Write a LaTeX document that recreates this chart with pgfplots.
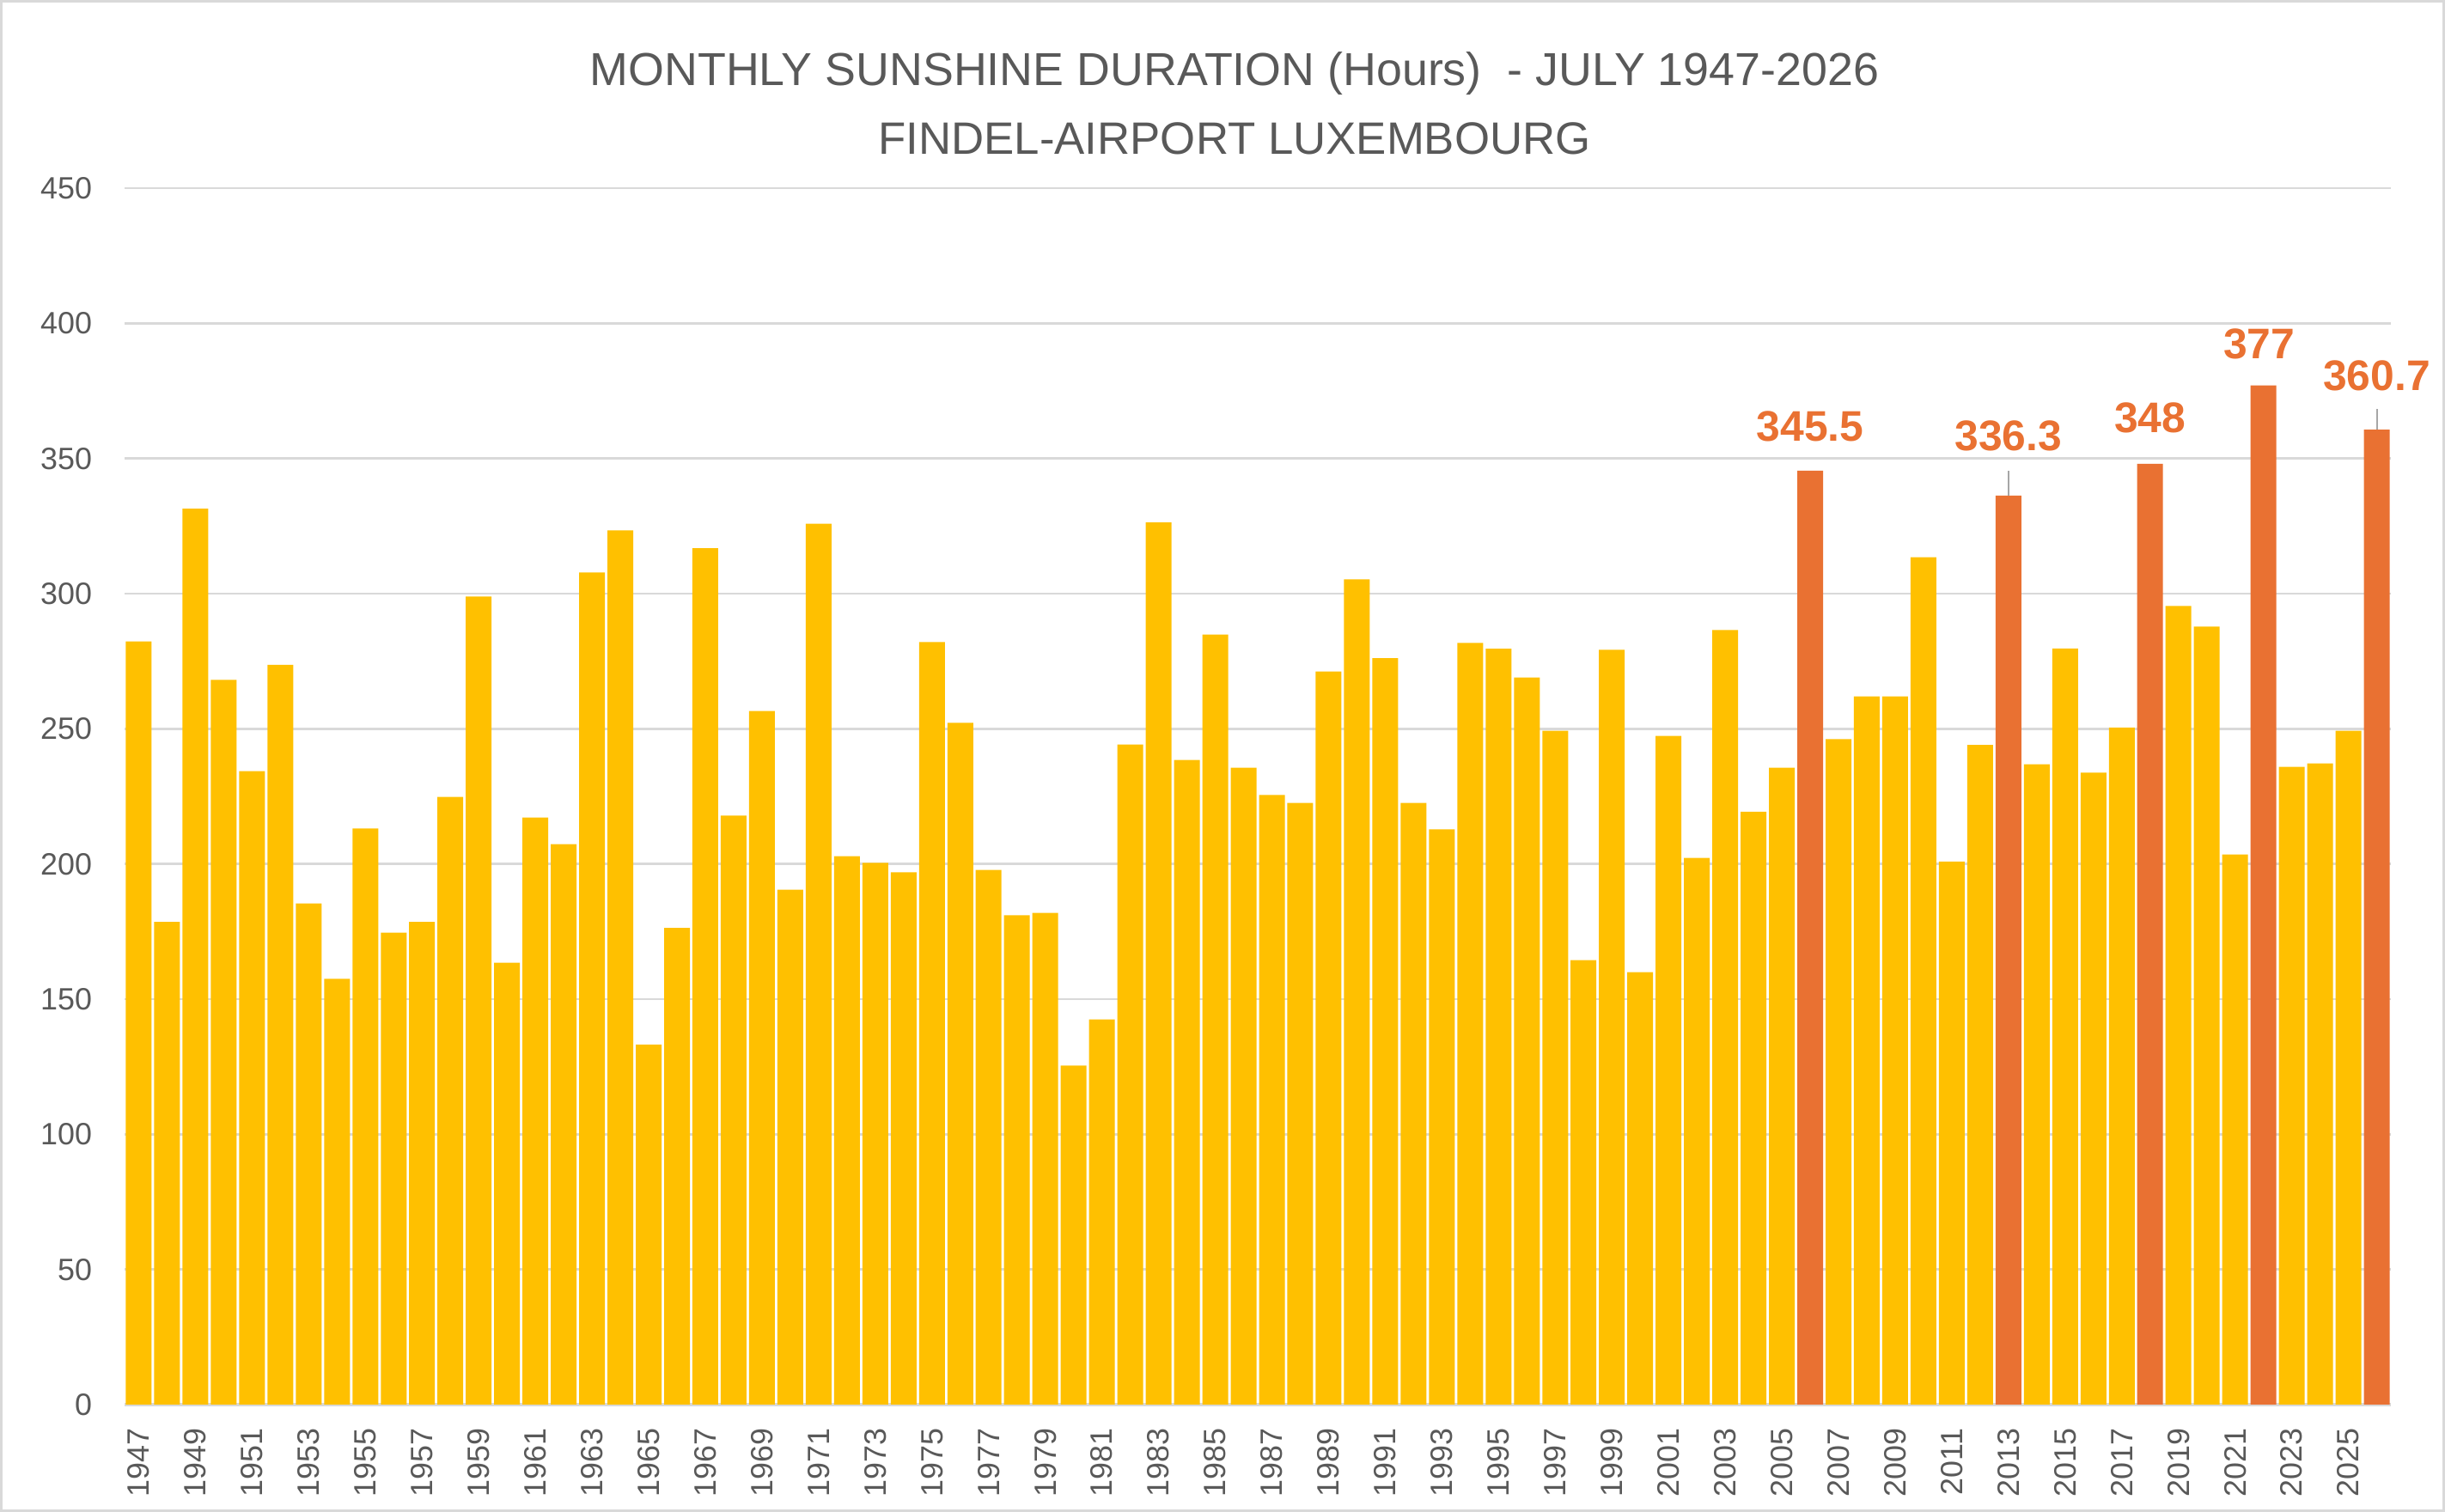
\documentclass[border=0pt]{standalone}
\usepackage{fontspec}
\setmainfont{Liberation Sans}
\usepackage{pgfplots}
\pgfplotsset{compat=1.18}
\definecolor{cyellow}{HTML}{FFC000}
\definecolor{corange}{HTML}{E97132}
\definecolor{ctext}{HTML}{595959}
\definecolor{cgrid}{HTML}{D9D9D9}
\definecolor{cleader}{HTML}{A6A6A6}
\begin{document}
\begin{tikzpicture}
\useasboundingbox (-29bp,-25bp) rectangle (540.2bp,327bp);
\draw[cgrid, line width=0.6bp] (-28.7bp,-24.7bp) rectangle (539.9bp,326.7bp);
\begin{axis}[
  at={(0,0)}, anchor=south west,
  scale only axis, width=527.6bp, height=283.2bp,
  xmin=-0.5, xmax=79.5, ymin=0, ymax=450,
  ybar, bar width=6bp, bar shift=0pt,
  axis x line*=bottom, axis y line*=left,
  y axis line style={draw=none},
  x axis line style={draw=cgrid, line width=0.75bp, -},
  every outer x axis line/.append style={-},
  ytick={0,50,...,450},
  ymajorgrids, grid style={cgrid, line width=0.5bp},
  xtick={0,2,...,78},
  xticklabels={1947,1949,1951,1953,1955,1957,1959,1961,1963,1965,1967,1969,1971,1973,1975,1977,1979,1981,1983,1985,1987,1989,1991,1993,1995,1997,1999,2001,2003,2005,2007,2009,2011,2013,2015,2017,2019,2021,2023,2025},
  major tick length=0pt,
  tick style={draw=none},
  /pgf/number format/assume math mode=true,
  tick label style={font=\fontsize{7.2}{8.6}\selectfont, text=ctext},
  yticklabel style={anchor=east, inner sep=0pt},
  yticklabel shift=7.4bp,
  xticklabel style={rotate=90, anchor=east, inner sep=0pt},
  xticklabel shift=5.4bp,
  clip=false,
]
\addplot[fill=cyellow, draw=none] coordinates {
(0,282.3) (1,178.6) (2,331.4) (3,268.1) (4,234.3) (5,273.7) (6,185.4) (7,157.5) (8,213.1) (9,174.6)
(10,178.6) (11,224.8) (12,298.9) (13,163.5) (14,217.2) (15,207.3) (16,307.8) (17,323.4) (18,133.2) (19,176.3)
(20,316.8) (21,217.9) (22,256.6) (23,190.5) (24,325.9) (25,202.9) (26,200.4) (27,196.9) (28,282.1) (29,252.2)
(30,197.8) (31,181.0) (32,181.9) (33,125.4) (34,142.5) (35,244.2) (36,326.3) (37,238.5) (38,284.9) (39,235.6)
(40,225.5) (41,222.6) (42,271.2) (43,305.3) (44,276.1) (45,222.6) (46,212.8) (47,281.8) (48,279.6) (49,269.0)
(50,249.3) (51,164.4) (52,279.2) (53,160.0) (54,247.4) (55,202.2) (56,286.5) (57,219.3) (58,235.6)
(60,246.2) (61,262.0) (62,262.0) (63,313.5) (64,200.9) (65,244.0) (67,236.9) (68,279.7) (69,233.8)
(70,250.5) (72,295.4) (73,287.8) (74,203.5) (76,235.9) (77,237.2) (78,249.3)
};
\addplot[fill=corange, draw=none] coordinates {
(59,345.5) (66,336.3) (71,348.0) (75,377.0) (79,360.7)
};
\draw[cleader, line width=0.4bp] (axis cs:66,336.3) -- ([yshift=5.8bp]axis cs:66,336.3);
\draw[cleader, line width=0.4bp] (axis cs:79,360.7) -- ([yshift=4.8bp]axis cs:79,360.7);
\node[anchor=base, text=corange, font=\bfseries\fontsize{10}{12}\selectfont, inner sep=0pt, yshift=6.8bp] at (axis cs:59,345.5) {345.5};
\node[anchor=base, text=corange, font=\bfseries\fontsize{10}{12}\selectfont, inner sep=0pt, yshift=10.4bp] at (axis cs:66,336.3) {336.3};
\node[anchor=base, text=corange, font=\bfseries\fontsize{10}{12}\selectfont, inner sep=0pt, yshift=7.2bp] at (axis cs:71,348.0) {348};
\node[anchor=base, text=corange, font=\bfseries\fontsize{10}{12}\selectfont, inner sep=0pt, yshift=6.2bp, xshift=-1bp] at (axis cs:75,377.0) {377};
\node[anchor=base, text=corange, font=\bfseries\fontsize{10}{12}\selectfont, inner sep=0pt, yshift=9.0bp] at (axis cs:79,360.7) {360.7};
\end{axis}
\node[anchor=base, text=ctext, font=\fontsize{10.8}{13}\selectfont, inner sep=0pt] at (258.4bp,307bp) {MONTHLY SUNSHINE DURATION (Hours)\ \ - JULY 1947-2026};
\node[anchor=base, text=ctext, font=\fontsize{10.6}{13}\selectfont, inner sep=0pt] at (258.4bp,291bp) {FINDEL-AIRPORT LUXEMBOURG};
\end{tikzpicture}
\end{document}
